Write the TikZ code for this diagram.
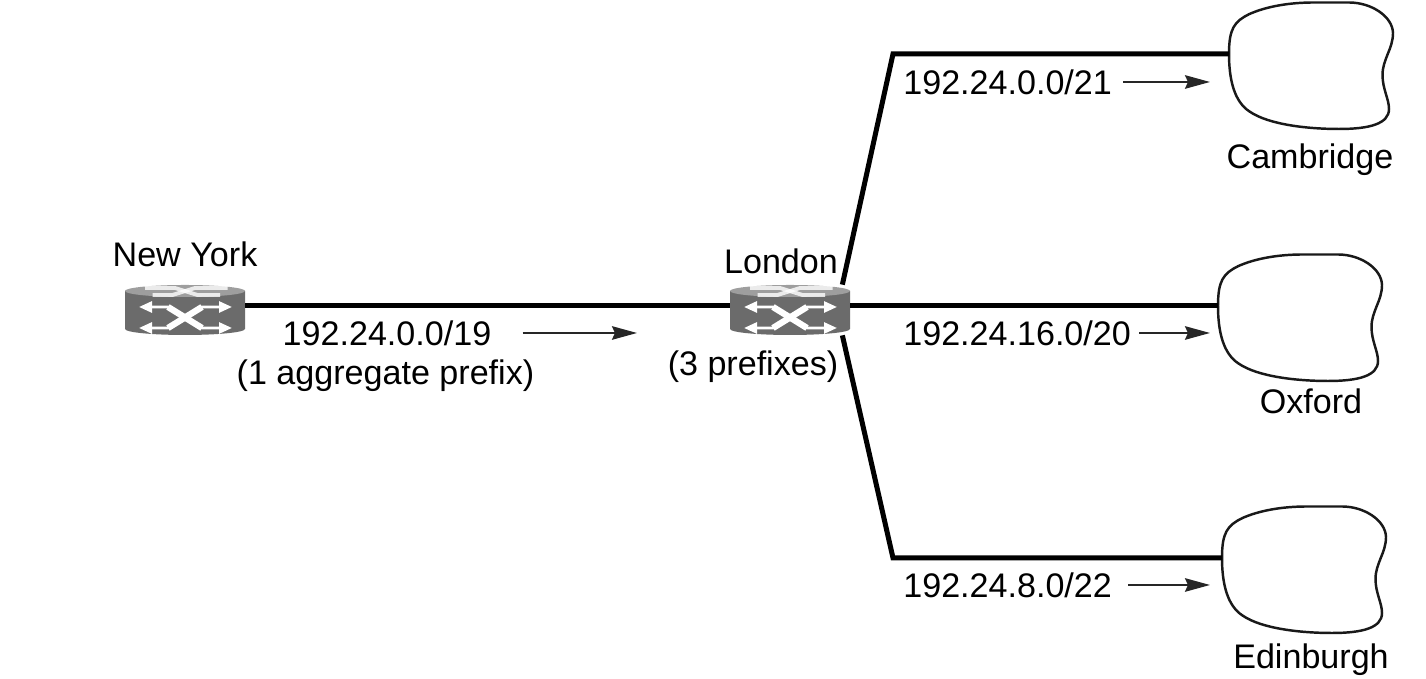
\documentclass[tikz,border=0pt]{standalone}
\usepackage{fontspec}
\setmainfont{Liberation Sans}
\usetikzlibrary{arrows.meta}

\tikzset{
    lab/.style={inner sep=0pt, font=\fontsize{19.4}{23}\selectfont, text height=13.9pt, text depth=0pt},
    trunk_line/.style={line width=2.85pt, draw=black, line join=miter},
    flow_line/.style={line width=1.2pt, draw=black!85, -{Stealth[length=0.5cm, width=0.27cm, inset=0.06cm]}},
    cloud_line/.style={line width=1.4pt, draw=black!90, fill=white},
    double_head/.style={{Stealth[length=0.26cm, width=0.22cm, inset=0pt]}-{Stealth[length=0.26cm, width=0.22cm, inset=0pt]}},
    router/.pic={
        \node (-box) [inner sep=0pt, minimum width=2.4cm, minimum height=1cm] at (0, 0) {};
        \fill [black!58] (-1.2, 0.38) -- (-1.2, -0.38) arc [start angle=180, end angle=360, x radius=1.2, y radius=0.12] -- (1.2, 0.38) -- cycle;
        \fill [black!38] (0, 0.38) ellipse [x radius=1.2, y radius=0.12];
        % Top of the router
        \draw [white, opacity=0.8, line width=2.2pt] (-0.8, 0.44) -- (-0.2, 0.44) -- (0.25, 0.3) -- (0.7, 0.3);
        \draw [white, opacity=0.8, line width=2.2pt] (-0.65, 0.3) -- (-0.25, 0.3) -- (0.2, 0.44) -- (0.85, 0.44);
        % Front of the router
        \draw [white, line width=1.5pt, double_head] (-0.92, 0.06) -- (-0.34, 0.06) -- (0.34, -0.36) -- (0.94, -0.36);
        \draw [white, line width=1.5pt, double_head] (-0.92, -0.36) -- (-0.34, -0.36) -- (0.34, 0.06) -- (0.94, 0.06);
        \draw [white, line width=3.6pt] (-0.34, 0.06) -- (0.34, -0.36);
        \draw [white, line width=3.6pt] (-0.34, -0.36) -- (0.34, 0.06);
    },
    site/.pic={
        \coordinate (-link) at (0, 0);
        \draw [cloud_line] (0, 0) .. controls (0, 0.5) and (0.1, 0.65) .. (0.41, 0.8)
            .. controls (0.75, 0.95) and (1.2, 1.03) .. (1.7, 1.03)
            -- (2.4, 1.03)
            .. controls (2.85, 1.03) and (3.27, 0.75) .. (3.28, 0.42)
            .. controls (3.28, 0.1) and (3.07, -0.1) .. (3.07, -0.42)
            .. controls (3.07, -0.7) and (3.2, -0.9) .. (3.2, -1.1)
            .. controls (3.2, -1.4) and (2.8, -1.5) .. (2.2, -1.5)
            .. controls (1.6, -1.5) and (0.8, -1.42) .. (0.41, -1.15)
            .. controls (0.1, -0.95) and (0, -0.5) .. (0, 0) -- cycle;
    }
}

\begin{document}
\begin{tikzpicture}
    \useasboundingbox (0, 0) rectangle (28.52, 13.58);

    % Corners and arrow tips
    \coordinate (corner_top) at (17.86, 12.5);
    \coordinate (corner_bottom) at (17.86, 2.42);
    \coordinate (tip_aggregate) at (12.74, 6.92);
    \coordinate (tip_cambridge) at (24.2, 11.94);
    \coordinate (tip_oxford) at (24.2, 6.92);
    \coordinate (tip_edinburgh) at (24.2, 1.88);

    % Sites
    \pic (cambridge) at (24.58, 12.5) {site};
    \pic (oxford) at (24.36, 7.46) {site};
    \pic (edinburgh) at (24.44, 2.42) {site};

    % Routers
    \pic (newyork) at (3.7, 7.38) {router};
    \pic (london) at (15.8, 7.38) {router};

    % Links
    \draw [trunk_line] ([yshift=0.08cm]newyork-box.east) -- ([yshift=0.08cm]london-box.west);
    \draw [trunk_line] ([xshift=-0.16cm]london-box.north east) -- (corner_top) -- (cambridge-link);
    \draw [trunk_line] ([yshift=0.08cm]london-box.east) -- (oxford-link);
    \draw [trunk_line] ([xshift=-0.16cm]london-box.south east) -- (corner_bottom) -- (edinburgh-link);

    % Labels
    \node (newyork_label) [lab] at (3.7, 8.5) {New York};
    \node (london_label) [lab] at (15.62, 8.36) {London};
    \node (cambridge_label) [lab] at (26.2, 10.46) {Cambridge};
    \node (oxford_label) [lab] at (26.22, 5.56) {Oxford};
    \node (edinburgh_label) [lab] at (26.22, 0.46) {Edinburgh};
    \node (prefix_aggregate) [lab] at (7.74, 6.92) {192.24.0.0/19};
    \node (note_aggregate) [lab] at (7.71, 6.14) {(1 aggregate prefix)};
    \node (note_london) [lab] at (15.06, 6.32) {(3 prefixes)};
    \node (prefix_cambridge) [lab, anchor=west] at (18.06, 11.94) {192.24.0.0/21};
    \node (prefix_oxford) [lab, anchor=west] at (18.06, 6.92) {192.24.16.0/20};
    \node (prefix_edinburgh) [lab, anchor=west] at (18.06, 1.88) {192.24.8.0/22};

    % Arrows
    \draw [flow_line, shorten <=0.62cm] (prefix_aggregate.east) -- (tip_aggregate);
    \draw [flow_line, shorten <=0.22cm] (prefix_cambridge.east) -- (tip_cambridge);
    \draw [flow_line, shorten <=0.16cm] (prefix_oxford.east) -- (tip_oxford);
    \draw [flow_line, shorten <=0.32cm] (prefix_edinburgh.east) -- (tip_edinburgh);
\end{tikzpicture}
\end{document}
